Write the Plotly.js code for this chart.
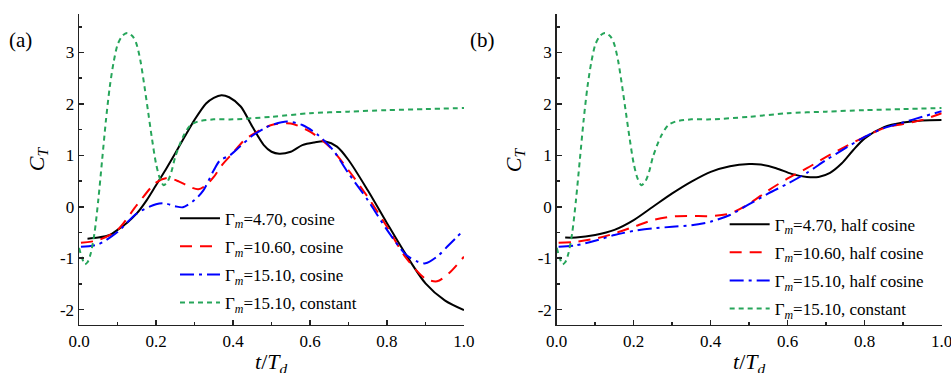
<!DOCTYPE html>
<html>
<head>
<meta charset="utf-8">
<script src="https://cdn.plot.ly/plotly-3.0.1.min.js"></script>
<style>html,body{margin:0;padding:0;background:#fff;}#chart{width:951px;height:373px;}</style>
</head>
<body>
<div id="chart"></div>
<script>
// ---- Panel (a): cosine profiles ----
var aBlackX = [0.022,0.05,0.08,0.1,0.125,0.15,0.175,0.2,0.225,0.25,0.275,0.3,0.33,0.35,0.37,0.39,0.42,0.45,0.48,0.5,0.52,0.55,0.58,0.61,0.64,0.67,0.7,0.75,0.8,0.85,0.9,0.95,1.0];
var aBlackY = [-0.62,-0.60,-0.55,-0.45,-0.31,-0.13,0.12,0.42,0.72,1.04,1.37,1.69,2.01,2.12,2.17,2.13,1.95,1.56,1.20,1.07,1.03,1.07,1.20,1.25,1.27,1.17,0.91,0.32,-0.32,-0.94,-1.49,-1.82,-2.01];

var aRedX = [0.005,0.05,0.1,0.15,0.2,0.23,0.26,0.29,0.31,0.33,0.35,0.37,0.4,0.43,0.47,0.5,0.55,0.6,0.65,0.7,0.75,0.8,0.85,0.9,0.93,0.96,1.0];
var aRedY = [-0.70,-0.65,-0.45,0.03,0.47,0.56,0.49,0.38,0.34,0.42,0.58,0.80,1.05,1.30,1.49,1.59,1.62,1.46,1.17,0.71,0.19,-0.39,-1.00,-1.40,-1.45,-1.30,-0.97];

var aBlueX = [0.005,0.05,0.1,0.15,0.2,0.22,0.25,0.27,0.3,0.323,0.35,0.366,0.392,0.418,0.45,0.48,0.5,0.54,0.58,0.62,0.66,0.7,0.75,0.8,0.85,0.88,0.9,0.93,0.96,1.0];
var aBlueY = [-0.78,-0.73,-0.49,-0.13,0.05,0.07,0.01,-0.01,0.13,0.32,0.71,0.90,1.00,1.17,1.38,1.52,1.59,1.66,1.59,1.40,1.10,0.65,0.13,-0.45,-0.94,-1.07,-1.10,-0.97,-0.75,-0.45];

// ---- Constant profile (same in both panels) ----
var constX = [0.0,0.008,0.015,0.022,0.03,0.04,0.05,0.06,0.07,0.08,0.09,0.1,0.11,0.12,0.1255,0.13,0.14,0.15,0.16,0.17,0.18,0.19,0.2,0.21,0.22,0.23,0.24,0.25,0.27,0.29,0.31,0.35,0.4,0.5,0.6,0.7,0.8,0.9,1.0];
var constY = [-0.80,-1.00,-1.12,-1.08,-0.92,-0.52,0.13,0.91,1.69,2.34,2.82,3.15,3.30,3.37,3.38,3.37,3.31,3.15,2.82,2.34,1.82,1.30,0.84,0.55,0.42,0.49,0.68,0.97,1.36,1.59,1.66,1.70,1.70,1.75,1.82,1.85,1.88,1.90,1.92];

// ---- Panel (b): half cosine profiles ----
var bBlackX = [0.022,0.05,0.1,0.15,0.2,0.25,0.3,0.35,0.4,0.45,0.5,0.53,0.57,0.61,0.65,0.68,0.71,0.74,0.77,0.8,0.85,0.9,0.95,1.0];
var bBlackY = [-0.60,-0.60,-0.55,-0.45,-0.26,0.0,0.26,0.49,0.68,0.79,0.83,0.82,0.75,0.64,0.58,0.58,0.66,0.84,1.10,1.33,1.55,1.64,1.68,1.69];

var bRedX = [0.005,0.05,0.1,0.15,0.2,0.25,0.3,0.35,0.4,0.45,0.5,0.55,0.6,0.65,0.7,0.75,0.8,0.85,0.9,0.95,1.0];
var bRedY = [-0.70,-0.68,-0.62,-0.52,-0.39,-0.26,-0.19,-0.18,-0.18,-0.13,0.06,0.32,0.55,0.75,0.97,1.17,1.36,1.53,1.61,1.69,1.82];

var bBlueX = [0.005,0.05,0.1,0.15,0.2,0.25,0.3,0.35,0.4,0.45,0.5,0.55,0.6,0.65,0.7,0.75,0.8,0.85,0.9,0.95,1.0];
var bBlueY = [-0.78,-0.75,-0.66,-0.55,-0.47,-0.42,-0.39,-0.36,-0.29,-0.16,0.05,0.26,0.45,0.66,0.91,1.14,1.36,1.53,1.64,1.75,1.86];

var namesA = ['Γ<sub><i>m</i></sub>=4.70, cosine','Γ<sub><i>m</i></sub>=10.60, cosine','Γ<sub><i>m</i></sub>=15.10, cosine','Γ<sub><i>m</i></sub>=15.10, constant'];
var namesB = ['Γ<sub><i>m</i></sub>=4.70, half cosine','Γ<sub><i>m</i></sub>=10.60, half cosine','Γ<sub><i>m</i></sub>=15.10, half cosine','Γ<sub><i>m</i></sub>=15.10, constant'];

var yTickVals = [-2,-1,0,1,2,3];
var yTickText = ['-2','-1','0','1','2','3'];
var xTickVals = [0,0.2,0.4,0.6,0.8,1.0];
var xTickText = ['0.0','0.2','0.4','0.6','0.8','1.0'];

var GREEN = 'rgb(38,165,90)';
var styles = [
  {color:'#000000', width:2, dash:'solid'},
  {color:'#ff0000', width:2, dash:'12px,8px'},
  {color:'#0000ff', width:2, dash:'14px,5px,3px,5px'},
  {color:GREEN, width:2, dash:'5px,4px'}
];

function tr(x,y,i,names,xa,ya,leg){
  return {x:x, y:y, type:'scatter', mode:'lines', name:names[i],
    xaxis:xa, yaxis:ya, legend:leg, legendgroup:leg+i,
    line:{color:styles[i].color, width:styles[i].width, dash:styles[i].dash, shape:'spline', smoothing:0.8}};
}

var data = [
  tr(aBlackX,aBlackY,0,namesA,'x','y','legend'),
  tr(aRedX,aRedY,1,namesA,'x','y','legend'),
  tr(aBlueX,aBlueY,2,namesA,'x','y','legend'),
  tr(constX,constY,3,namesA,'x','y','legend'),
  tr(bBlackX,bBlackY,0,namesB,'x2','y2','legend2'),
  tr(bRedX,bRedY,1,namesB,'x2','y2','legend2'),
  tr(bBlueX,bBlueY,2,namesB,'x2','y2','legend2'),
  tr(constX,constY,3,namesB,'x2','y2','legend2')
];

var FONT = 'Liberation Serif';
function xax(dom){
  return {domain:dom, range:[0,1], showline:true, linecolor:'#222', linewidth:1.5,
    ticks:'inside', ticklen:5, tickwidth:1.5, tickcolor:'#222',
    tickmode:'array', tickvals:xTickVals, ticktext:xTickText, ticklabeloverflow:'allow',
    minor:{dtick:0.1, ticks:'inside', ticklen:3, tickwidth:1.5, tickcolor:'#222', showgrid:false},
    showgrid:false, zeroline:false, fixedrange:true,
    tickfont:{family:FONT, size:17, color:'#000'}};
}
function yax(anchor){
  return {domain:[0.1287,0.9625], range:[-2.3,3.75], anchor:anchor, showline:true, linecolor:'#222', linewidth:1.5,
    ticks:'inside', ticklen:5, tickwidth:1.5, tickcolor:'#222',
    tickmode:'array', tickvals:yTickVals, ticktext:yTickText, ticklabeloverflow:'allow',
    minor:{dtick:0.5, ticks:'inside', ticklen:3, tickwidth:1.5, tickcolor:'#222', showgrid:false},
    showgrid:false, zeroline:false, fixedrange:true,
    tickfont:{family:FONT, size:17, color:'#000'}};
}
var legBase = {bgcolor:'rgba(0,0,0,0)', borderwidth:0, font:{family:FONT, size:17, color:'#000'},
  xanchor:'left', yanchor:'top', tracegroupgap:3, itemwidth:40};

var ann = function(text,x,y,opts){
  return Object.assign({text:text, x:x, y:y, xref:'paper', yref:'paper', showarrow:false,
    xanchor:'center', yanchor:'middle',
    font:{family:FONT, size:22, color:'#000'}}, opts||{});
};

var layout = {
  width:951, height:373, margin:{l:0,r:0,t:0,b:0},
  font:{family:FONT, color:'#000'},
  paper_bgcolor:'#fff', plot_bgcolor:'#fff', showlegend:true,
  xaxis:Object.assign(xax([0.0831,0.4879]),{anchor:'y'}),
  yaxis:yax('x'),
  xaxis2:Object.assign(xax([0.5854,0.9902]),{anchor:'y2'}),
  yaxis2:yax('x2'),
  legend:Object.assign({}, legBase, {x:0.184, y:0.462}),
  legend2:Object.assign({}, legBase, {x:0.762, y:0.446}),
  annotations:[
    ann('(a)',0.022,0.893,{font:{family:FONT,size:21,color:'#000'}}),
    ann('(b)',0.507,0.893,{font:{family:FONT,size:21,color:'#000'}}),
    ann('<i>C</i><sub><i>T</i></sub>',0.040,0.573,{textangle:-90}),
    ann('<i>C</i><sub><i>T</i></sub>',0.5415,0.573,{textangle:-90}),
    ann('<i>t</i>/<i>T</i><sub><i>d</i></sub>',0.2855,0.069,{yanchor:'top'}),
    ann('<i>t</i>/<i>T</i><sub><i>d</i></sub>',0.7878,0.069,{yanchor:'top'})
  ]
};

Plotly.newPlot('chart', data, layout, {displayModeBar:false, staticPlot:true});
</script>
</body>
</html>
